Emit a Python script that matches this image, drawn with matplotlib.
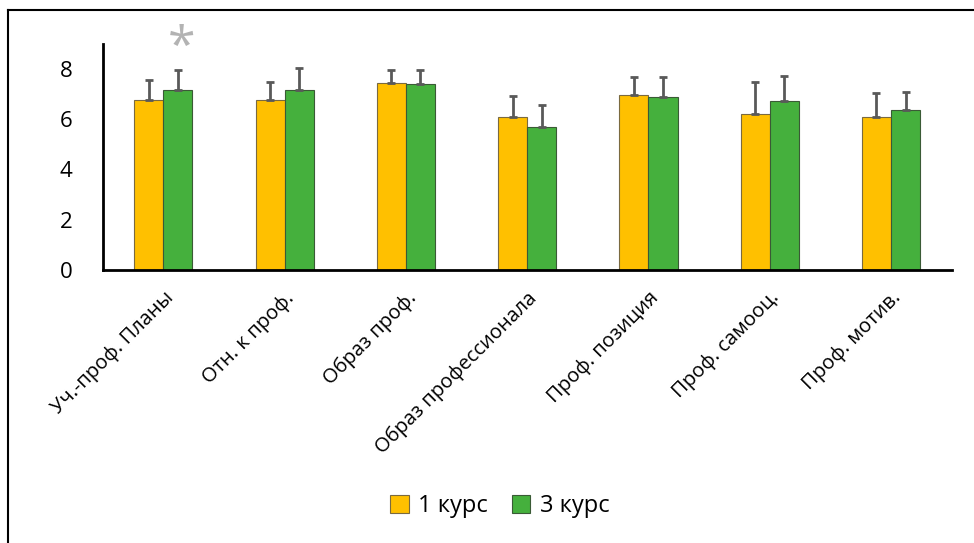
import numpy as np
import matplotlib.pyplot as plt
from matplotlib.lines import Line2D

plt.rcParams['font.family'] = ['Open Sans', 'DejaVu Sans']

categories = ['Уч.-проф. Планы', 'Отн. к проф.', 'Образ проф.', 'Образ профессионала',
              'Проф. позиция', 'Проф. самооц.', 'Проф. мотив.']
kurs1 = [6.75, 6.75, 7.45, 6.1, 6.98, 6.2, 6.1]
kurs1_err = [0.82, 0.74, 0.51, 0.82, 0.72, 1.27, 0.93]
kurs3 = [7.17, 7.17, 7.42, 5.71, 6.87, 6.72, 6.35]
kurs3_err = [0.79, 0.87, 0.54, 0.87, 0.8, 1.0, 0.74]

x = np.arange(len(categories))
w = 0.24

fig = plt.figure(figsize=(9.74, 5.43), dpi=100)
ax = fig.add_axes([0.1055, 0.503, 0.8715, 0.416])

errkw = dict(ecolor='#595959', elinewidth=2, capsize=3, capthick=2)
ax.bar(x - w/2, kurs1, w, color='#FFC000', edgecolor='#7a6a40', linewidth=0.8,
       yerr=[np.zeros(len(x)), kurs1_err], error_kw=errkw, label='1 курс')
ax.bar(x + w/2, kurs3, w, color='#45B03D', edgecolor='#3a5a36', linewidth=0.8,
       yerr=[np.zeros(len(x)), kurs3_err], error_kw=errkw, label='3 курс')

# значимое различие
ax.text(0.15, 8.8, '*', color='#b3b3b3', fontsize=36, ha='center', va='center',
        clip_on=False)

ax.set_xlim(-0.5, 6.5)
ax.set_ylim(0, 9)
ax.set_yticks([0, 2, 4, 6, 8])
ax.set_xticks(x)
ax.set_xticklabels(categories, rotation=45, ha='right', rotation_mode='anchor', fontsize=14.5)
ax.tick_params(axis='y', labelsize=16, length=0, pad=22)
ax.tick_params(axis='x', length=0, pad=13)
for s in ['top', 'right']:
    ax.spines[s].set_visible(False)
ax.spines['left'].set_linewidth(2)
ax.spines['bottom'].set_linewidth(2)

fig.legend(loc='center', bbox_to_anchor=(0.513, 0.068), ncol=2, frameon=False,
           fontsize=17, handlelength=0.8, handleheight=0.8, columnspacing=1.0,
           handletextpad=0.4)

fig.add_artist(Line2D([0.008, 1], [0.982, 0.982], color='black', linewidth=1.5))
fig.add_artist(Line2D([0.008, 0.008], [0, 0.982], color='black', linewidth=1.5))

fig.savefig('out.png', dpi=100)
